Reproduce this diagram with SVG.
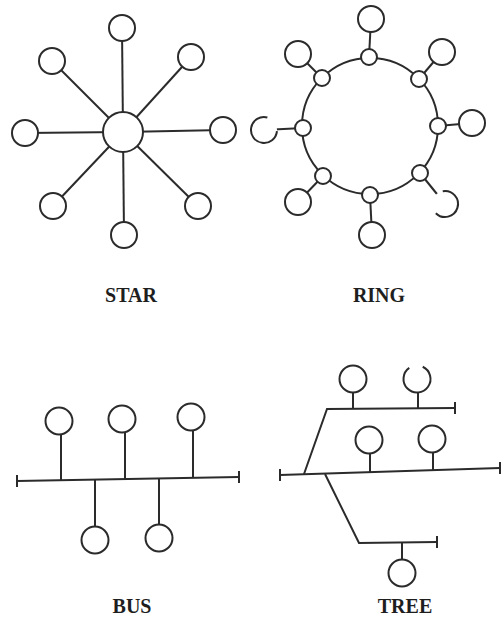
<svg xmlns="http://www.w3.org/2000/svg" width="503" height="618" viewBox="0 0 503 618">
  <style>
    .bg { fill: #ffffff; }
    .link { stroke: #2b2b2b; stroke-width: 2; fill: none; stroke-linecap: butt; }
    .node { fill: #ffffff; stroke: #2b2b2b; stroke-width: 2; }
    .mask { fill: #ffffff; stroke: none; }
    .arc { fill: none; stroke: #2b2b2b; stroke-width: 2; }
    .label { font-family: "Liberation Serif", "Times New Roman", serif; font-weight: bold; font-size: 20px; fill: #1e1e1e; text-anchor: middle; }
  </style>
  <rect class="bg" x="0" y="0" width="503" height="618"/>

  <!-- connectors -->
  <g id="connectors">
    <!-- star: spokes from hub -->
    <line class="link" x1="123" y1="132" x2="122" y2="28"/>
    <line class="link" x1="123" y1="132" x2="52" y2="61"/>
    <line class="link" x1="123" y1="132" x2="191" y2="57"/>
    <line class="link" x1="123" y1="132" x2="25" y2="133"/>
    <line class="link" x1="123" y1="132" x2="223" y2="130"/>
    <line class="link" x1="123" y1="132" x2="53" y2="206"/>
    <line class="link" x1="123" y1="132" x2="198" y2="206"/>
    <line class="link" x1="123" y1="132" x2="124" y2="235"/>

    <!-- ring: loop and taps -->
    <circle class="link" cx="370" cy="126" r="68"/>
    <line class="link" x1="369" y1="57" x2="371" y2="19"/>
    <line class="link" x1="322" y1="78" x2="298" y2="54"/>
    <line class="link" x1="419" y1="79" x2="442" y2="52"/>
    <line class="link" x1="303" y1="128" x2="264" y2="130"/>
    <line class="link" x1="438" y1="126" x2="472" y2="123"/>
    <line class="link" x1="323" y1="176" x2="298" y2="202"/>
    <line class="link" x1="370" y1="195" x2="372" y2="235"/>
    <line class="link" x1="420" y1="173" x2="445" y2="204"/>

    <!-- bus: trunk with terminators and drops -->
    <line class="link" x1="17" y1="481" x2="239" y2="477"/>
    <line class="link" x1="17" y1="475" x2="17" y2="487"/>
    <line class="link" x1="239" y1="471" x2="239" y2="483"/>
    <line class="link" x1="61" y1="421" x2="61" y2="480"/>
    <line class="link" x1="125" y1="419" x2="125" y2="479"/>
    <line class="link" x1="193" y1="417" x2="193" y2="478"/>
    <line class="link" x1="95" y1="480" x2="95" y2="540"/>
    <line class="link" x1="159" y1="479" x2="159" y2="538"/>

    <!-- tree: main trunk, branches and drops -->
    <line class="link" x1="280" y1="475" x2="500" y2="468"/>
    <line class="link" x1="280" y1="469" x2="280" y2="481"/>
    <line class="link" x1="500" y1="462" x2="500" y2="474"/>
    <polyline class="link" points="304,474 327,409 455,408"/>
    <line class="link" x1="455" y1="402" x2="455" y2="414"/>
    <polyline class="link" points="325,474 359,543 437,542"/>
    <line class="link" x1="437" y1="536" x2="437" y2="548"/>
    <line class="link" x1="353" y1="379" x2="353" y2="409"/>
    <line class="link" x1="418" y1="379" x2="418" y2="408"/>
    <line class="link" x1="370" y1="440" x2="370" y2="472"/>
    <line class="link" x1="433" y1="439" x2="433" y2="470"/>
    <line class="link" x1="402" y1="542" x2="402" y2="573"/>
  </g>

  <!-- star nodes -->
  <g id="star-hub"><circle class="node" cx="123" cy="132" r="20"/></g>
  <g id="star-n"><circle class="node" cx="122" cy="28" r="13"/></g>
  <g id="star-nw"><circle class="node" cx="52" cy="61" r="13"/></g>
  <g id="star-ne"><circle class="node" cx="191" cy="57" r="13"/></g>
  <g id="star-w"><circle class="node" cx="25" cy="133" r="13"/></g>
  <g id="star-e"><circle class="node" cx="223" cy="130" r="13"/></g>
  <g id="star-sw"><circle class="node" cx="53" cy="206" r="13"/></g>
  <g id="star-se"><circle class="node" cx="198" cy="206" r="13"/></g>
  <g id="star-s"><circle class="node" cx="124" cy="235" r="13"/></g>

  <!-- ring repeaters -->
  <g id="ring-tap-n"><circle class="node" cx="369" cy="57" r="8"/></g>
  <g id="ring-tap-nw"><circle class="node" cx="322" cy="78" r="8"/></g>
  <g id="ring-tap-ne"><circle class="node" cx="419" cy="79" r="8"/></g>
  <g id="ring-tap-w"><circle class="node" cx="303" cy="128" r="8"/></g>
  <g id="ring-tap-e"><circle class="node" cx="438" cy="126" r="8"/></g>
  <g id="ring-tap-sw"><circle class="node" cx="323" cy="176" r="8"/></g>
  <g id="ring-tap-s"><circle class="node" cx="370" cy="195" r="8"/></g>
  <g id="ring-tap-se"><circle class="node" cx="420" cy="173" r="8"/></g>

  <!-- ring stations -->
  <g id="ring-n"><circle class="node" cx="371" cy="19" r="13"/></g>
  <g id="ring-nw"><circle class="node" cx="298" cy="54" r="13"/></g>
  <g id="ring-ne"><circle class="node" cx="442" cy="52" r="13"/></g>
  <g id="ring-w">
    <circle class="mask" cx="264" cy="130" r="13"/>
    <path class="arc" d="M 276.95 131.13 A 13 13 0 1 1 267.36 117.44"/>
  </g>
  <g id="ring-e"><circle class="node" cx="472" cy="123" r="13"/></g>
  <g id="ring-sw"><circle class="node" cx="298" cy="202" r="13"/></g>
  <g id="ring-s"><circle class="node" cx="372" cy="235" r="13"/></g>
  <g id="ring-se">
    <circle class="mask" cx="445" cy="204" r="13"/>
    <path class="arc" d="M 442.74 191.20 A 13 13 0 1 1 435.81 213.19"/>
  </g>

  <!-- bus stations -->
  <g id="bus-1"><circle class="node" cx="59" cy="421" r="13.5"/></g>
  <g id="bus-2"><circle class="node" cx="122" cy="419" r="13.5"/></g>
  <g id="bus-3"><circle class="node" cx="191" cy="417" r="13.5"/></g>
  <g id="bus-4"><circle class="node" cx="95" cy="540" r="13.5"/></g>
  <g id="bus-5"><circle class="node" cx="159" cy="538" r="13.5"/></g>

  <!-- tree stations -->
  <g id="tree-1"><circle class="node" cx="353" cy="379" r="13.5"/></g>
  <g id="tree-2">
    <circle class="mask" cx="417" cy="379" r="13.5"/>
    <path class="arc" d="M 422.71 366.77 A 13.5 13.5 0 1 1 409.26 367.94"/>
  </g>
  <g id="tree-3"><circle class="node" cx="369" cy="440" r="13.5"/></g>
  <g id="tree-4"><circle class="node" cx="432" cy="439" r="13.5"/></g>
  <g id="tree-5"><circle class="node" cx="402" cy="573" r="13.5"/></g>

  <!-- captions -->
  <g id="labels">
    <text class="label" x="131" y="302">STAR</text>
    <text class="label" x="379" y="302">RING</text>
    <text class="label" x="132" y="613">BUS</text>
    <text class="label" x="405" y="613">TREE</text>
  </g>
</svg>
